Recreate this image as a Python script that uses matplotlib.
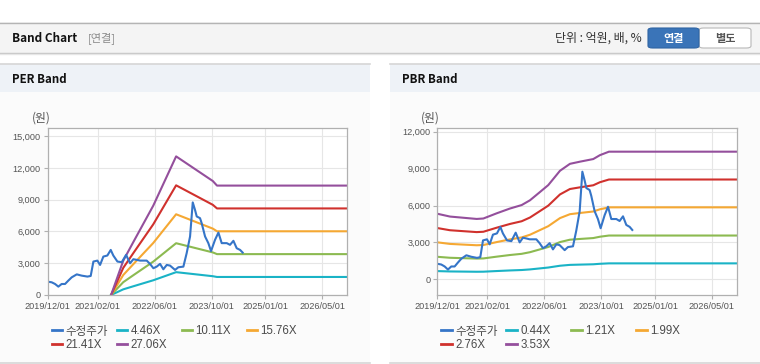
import numpy as np
import pandas as pd
import matplotlib
matplotlib.use("Agg")
import matplotlib.pyplot as plt
from matplotlib.patches import Rectangle, FancyBboxPatch
from matplotlib.lines import Line2D

plt.rcParams['font.family'] = ['Liberation Sans', 'Noto Sans CJK KR', 'DejaVu Sans']

# adjusted close price (shared by both charts)
price_dates = ["2019-12-01", "2020-01-04", "2020-02-02", "2020-03-01", "2020-03-29", "2020-04-27",
               "2020-05-25", "2020-06-23", "2020-08-05", "2020-09-16", "2020-11-04", "2020-12-02",
               "2020-12-25", "2021-01-28", "2021-02-20", "2021-03-20", "2021-04-23", "2021-05-22",
               "2021-06-13", "2021-07-18", "2021-08-24", "2021-09-30", "2021-11-03", "2021-12-01",
               "2021-12-30", "2022-01-27", "2022-03-25", "2022-04-22", "2022-05-21", "2022-06-18",
               "2022-07-17", "2022-08-14", "2022-09-12", "2022-10-10", "2022-11-22", "2022-12-20",
               "2023-02-01", "2023-03-01", "2023-03-30", "2023-04-22", "2023-05-11", "2023-05-26",
               "2023-06-23", "2023-07-07", "2023-08-05", "2023-09-02", "2023-09-25", "2023-10-29",
               "2023-11-27", "2023-12-25", "2024-02-06", "2024-03-05", "2024-04-03", "2024-05-01",
               "2024-05-30", "2024-06-21"]
price_vals = [1260, 1200, 1040, 790, 1040, 1040,
              1360, 1670, 1950, 1830, 1740, 1800,
              3160, 3250, 2840, 3630, 3730, 4260,
              3730, 3160, 3100, 3790, 3000, 3380,
              3320, 3250, 3250, 2940, 2530, 2680,
              2940, 2430, 2840, 2780, 2370, 2620,
              2680, 3950, 5530, 8750, 8050, 7420,
              7260, 6790, 5530, 4900, 4150, 5210,
              5900, 4900, 4900, 4740, 5120, 4420,
              4260, 4010]

# PER band: EPS base x multiples
eps_dates = ["2021-05-25", "2021-09-06", "2021-12-01", "2022-05-20", "2022-12-01",
             "2023-10-10", "2023-11-15", "2026-12-01"]
eps_vals = [0, 120, 185, 312, 484, 398, 382, 382]
per_mults = [4.46, 10.11, 15.76, 21.41, 27.06]

# PBR band: BPS base x multiples
bps_dates = ["2019-12-01", "2020-03-18", "2020-11-01", "2020-12-28", "2021-04-21", "2021-08-12",
             "2021-11-20", "2022-01-30", "2022-04-25", "2022-07-05", "2022-10-13", "2023-01-06",
             "2023-04-02", "2023-07-24", "2023-09-19", "2023-12-05", "2026-12-01"]
bps_vals = [1510, 1445, 1390, 1400, 1520, 1630,
            1710, 1820, 2010, 2170, 2500, 2660,
            2710, 2770, 2860, 2940, 2940]
pbr_mults = [0.44, 1.21, 1.99, 2.76, 3.53]

band_colors = ["#1ab3c6", "#8cba51", "#f5a833", "#d0312d", "#944f9c"]
price_color = "#3575c8"
xtick_labels = ["2019/12/01", "2021/02/01", "2022/06/01", "2023/10/01", "2025/01/01", "2026/05/01"]

W, H = 760, 364
fig = plt.figure(figsize=(W / 100, H / 100), dpi=100)
fig.patch.set_facecolor("white")


def fx(x):
    return x / W


def fy(y):
    return 1 - y / H


def box(x0, y0, x1, y1, color):
    fig.patches.append(Rectangle((fx(x0), fy(y1)), (x1 - x0) / W, (y1 - y0) / H,
                                 transform=fig.transFigure, facecolor=color,
                                 edgecolor="none", zorder=-2))


def hline(x0, x1, y, color, lw=1.0):
    fig.add_artist(Line2D([fx(x0), fx(x1)], [fy(y), fy(y)], transform=fig.transFigure,
                          color=color, lw=lw, zorder=-1))


KR = ['Noto Sans CJK KR', 'DejaVu Sans']

# top header bar
box(0, 22, W, 53, "#f4f4f4")
hline(0, W, 22.5, "#b4b4b4")
hline(0, W, 53, "#c4c4c4")
hline(0, W, 54, "#e6e6e6")
fig.text(fx(12), fy(38.5), "Band Chart", family=KR, fontsize=8.5, fontweight="bold",
         color="#111111", va="center", ha="left")
fig.text(fx(88), fy(38.5), "[연결]", family=KR, fontsize=8, color="#8a8a8a",
         va="center", ha="left")
fig.text(fx(642), fy(38.5), "단위 : 억원, 배, %", family=KR, fontsize=8.6, color="#333333",
         va="center", ha="right")
fig.patches.append(FancyBboxPatch((fx(699), fy(48)), (751 - 699) / W, 20 / H,
                                  boxstyle="round,pad=0,rounding_size=0.006",
                                  transform=fig.transFigure, facecolor="white",
                                  edgecolor="#b8b8b8", lw=0.8, zorder=1))
fig.patches.append(FancyBboxPatch((fx(648), fy(48)), (699 - 648) / W, 20 / H,
                                  boxstyle="round,pad=0,rounding_size=0.006",
                                  transform=fig.transFigure, facecolor="#3a74b8",
                                  edgecolor="#2f64a3", lw=0.8, zorder=2))
fig.text(fx(673.5), fy(38.5), "연결", family=KR, fontsize=8, fontweight="bold",
         color="white", va="center", ha="center", zorder=3)
fig.text(fx(725), fy(38.5), "별도", family=KR, fontsize=8, fontweight="bold",
         color="#555555", va="center", ha="center", zorder=3)


def draw_panel(px0, px1, title, ax_left, base_dates, base_vals, mults, ylim, yticks):
    box(px0, 64, px1, 92, "#eef2f7")
    box(px0, 92, px1, 362, "#fbfbfb")
    hline(px0, px1, 64, "#d6d6d6", lw=1.2)
    hline(px0, px1, 362.5, "#d6d6d6", lw=1.2)
    fig.text(fx(px0 + 12), fy(79.5), title, family=KR, fontsize=8.3, fontweight="bold",
             color="#111111", va="center", ha="left")
    fig.text(fx(ax_left - 16), fy(118.5), "(원)", family=KR, fontsize=8.5, color="#555555",
             va="center", ha="left")

    ax = fig.add_axes([fx(ax_left), fy(295), 299.6 / W, (295 - 128.3) / H])
    ax.set_zorder(2)
    ax.set_facecolor("white")
    bd = pd.to_datetime(base_dates)
    base = np.array(base_vals, dtype=float)
    for m, c in zip(mults, band_colors):
        ax.plot(bd, base * m, color=c, lw=1.5, solid_joinstyle="round")
    ax.plot(pd.to_datetime(price_dates), price_vals, color=price_color, lw=1.5,
            solid_joinstyle="round")

    ax.set_xlim(pd.Timestamp("2019-12-01"), pd.Timestamp("2026-12-01"))
    ax.set_ylim(*ylim)
    ax.set_yticks(yticks)
    ax.set_yticklabels([f"{v:,}" for v in yticks])
    ax.set_xticks(pd.to_datetime([s.replace("/", "-") for s in xtick_labels]))
    ax.set_xticklabels(xtick_labels)
    ax.grid(True, color="#e6e6e6", lw=0.8)
    ax.set_axisbelow(True)
    for s in ax.spines.values():
        s.set_color("#b0b0b0")
        s.set_linewidth(0.9)
    ax.tick_params(colors="#b0b0b0", labelcolor="#555555", labelsize=6.6, length=3,
                   width=0.8, pad=2)

    handles = [Line2D([], [], color=price_color, lw=2)] + \
              [Line2D([], [], color=c, lw=2) for c in band_colors]
    labels = ["수정주가"] + [f"{m:.2f}X" for m in mults]
    cols = [[0, 4], [1, 5], [2], [3]]
    for k, idx in enumerate(cols):
        leg = fig.legend([handles[i] for i in idx], [labels[i] for i in idx],
                         loc="upper left", bbox_to_anchor=(fx(ax_left + 4 + 65 * k), fy(325.5)),
                         frameon=False, fontsize=8.3, handlelength=0.9, handletextpad=0.3,
                         labelspacing=0.12, borderpad=0, borderaxespad=0)
        for t in leg.get_texts():
            t.set_color("#4a4a4a")
    return ax


draw_panel(0, 370, "PER Band", 47.7, eps_dates, eps_vals, per_mults,
           (0, 15750), [0, 3000, 6000, 9000, 12000, 15000])
draw_panel(390, 760, "PBR Band", 437.3, bps_dates, bps_vals, pbr_mults,
           (-1280, 12280), [0, 3000, 6000, 9000, 12000])

fig.savefig("out.png", dpi=100)
